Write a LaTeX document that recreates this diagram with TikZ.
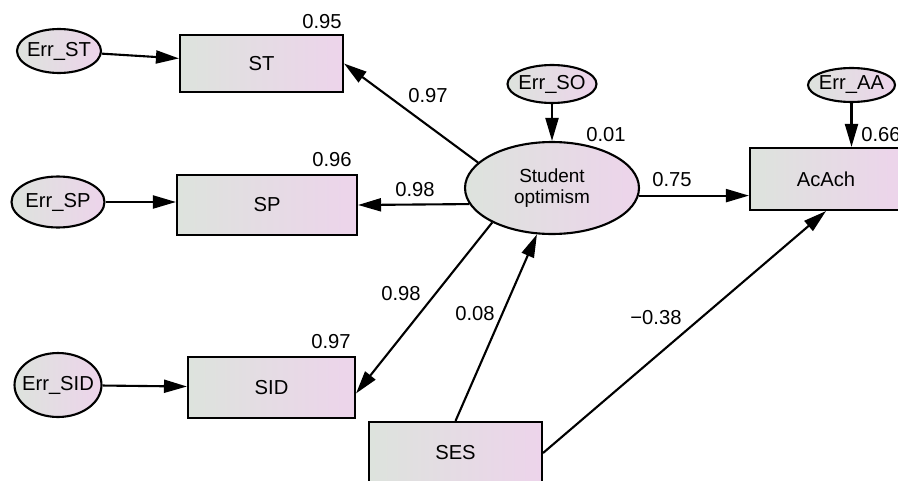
\documentclass[tikz,border=0pt]{standalone}
\usepackage{fontspec}
\setmainfont{Liberation Sans}
\usetikzlibrary{shapes.geometric,arrows.meta}
\definecolor{shadel}{RGB}{221,227,221}
\definecolor{shader}{RGB}{237,212,235}

\begin{document}
\begin{tikzpicture}[x=0.02cm,y=-0.02cm,
  every node/.style={font=\fontsize{11.5}{13}\selectfont},
  obs/.style={rectangle,draw,line width=1.2pt,left color=shadel,right color=shader,inner sep=0pt},
  err/.style={ellipse,draw,line width=1.2pt,left color=shadel,right color=shader,inner ysep=0pt,inner xsep=-3.5pt},
  lat/.style={ellipse,draw,line width=1.2pt,left color=shadel,right color=shader,inner sep=0pt,align=center,
    font=\fontsize{10.8}{11.5}\selectfont},
  arr/.style={line width=1.2pt,-{Triangle[length=0.46cm,width=0.26cm]}}]
\useasboundingbox (0,0) rectangle (898,480);
\clip (0,0) rectangle (898,480);
% observed variables
\node[obs,minimum width=3.26cm,minimum height=1.14cm] (st) at (261.5,63.5) {ST};
\node[obs,minimum width=3.6cm,minimum height=1.2cm] (sp) at (267,205) {SP};
\node[obs,minimum width=3.34cm,minimum height=1.22cm] (sid) at (271.5,387.5) {SID};
\node[obs,minimum width=3.46cm,minimum height=1.24cm] (ses) at (455.5,453) {SES};
\node[obs,minimum width=3.04cm,minimum height=1.24cm] (acach) at (826,179) {AcAch};
% latent and errors
\node[lat,minimum width=3.48cm,minimum height=1.84cm] (so) at (552,188) {Student\\optimism};
\node[err,minimum width=1.68cm,minimum height=0.88cm] (est) at (59,51) {Err\_ST};
\node[err,minimum width=1.86cm,minimum height=1.02cm] (esp) at (58,202) {Err\_SP};
\node[err,minimum width=1.74cm,minimum height=1.28cm] (esid) at (58,385) {Err\_SID};
\node[err,minimum width=1.78cm,minimum height=0.76cm] (eso) at (552,84) {Err\_SO};
\node[err,minimum width=1.74cm,minimum height=0.68cm] (eaa) at (851.5,85) {Err\_AA};
% paths
\draw[arr] (est) -- (st);
\draw[arr] (esp) -- (esp -| sp.west);
\draw[arr] (esid) -- (sid);
\draw[arr] (eso) -- (so);
\draw[arr] (eaa) -- (eaa |- acach.north);
\draw[arr] (so.161) -- (st.east);
\draw[arr] (so.191) -- (sp.east);
\draw[arr] (so.210) -- (sid.-4);
\draw[arr] (ses.north) -- (so.252);
\draw[arr] (so.-5) -- (acach.west |- so.-5);
\draw[arr] (ses.east) -- (acach.south);
% coefficients
\node (rst) at (322,22) {0.95};
\node (rsp) at (332,160) {0.96};
\node (rsid) at (331,342) {0.97};
\node (rso) at (606,135) {0.01};
\node (raa) at (881,135) {0.66};
\node (wst) at (428,96) {0.97};
\node (wsp) at (415,190) {0.98};
\node (wsid) at (401,294) {0.98};
\node (wses) at (475,314) {0.08};
\node (waa) at (672,180) {0.75};
\node (wsesaa) at (656,318) {−0.38};
\end{tikzpicture}
\end{document}
